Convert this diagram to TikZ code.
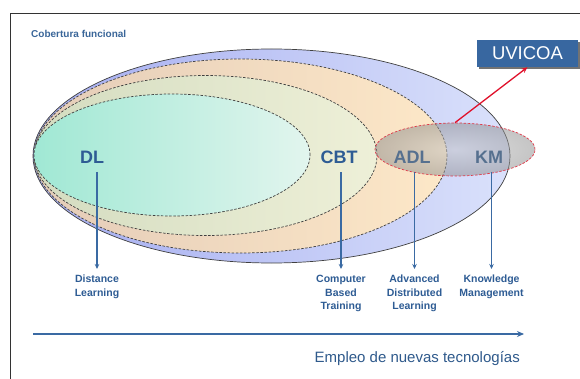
\documentclass[tikz,border=0pt]{standalone}
\usepackage{fontspec}
\setmainfont{Liberation Sans}
\usetikzlibrary{shapes.geometric,arrows.meta}
\definecolor{lbl}{HTML}{2E5C94}
\definecolor{lblgrey}{HTML}{56708F}
\definecolor{arr}{HTML}{3A6AA3}
\definecolor{ttl}{HTML}{3A6699}
\definecolor{boxblue}{HTML}{3867A0}
\definecolor{redline}{HTML}{E0102A}
\definecolor{kmred}{HTML}{E03848}
\definecolor{blueL}{HTML}{A4ACF0}
\definecolor{blueR}{HTML}{DAE1FB}
\definecolor{orL}{HTML}{E4CCB8}
\definecolor{orR}{HTML}{FDE8C8}
\definecolor{cbL}{HTML}{D4DCC0}
\definecolor{cbR}{HTML}{EEF0D8}
\definecolor{dlL}{HTML}{A0E8D4}
\definecolor{dlR}{HTML}{E2F5EE}
\definecolor{kmIn}{HTML}{C4C4C4}
\definecolor{kmOut}{HTML}{8C8C8C}
\definecolor{empl}{HTML}{2F5A8C}
\begin{document}
\begin{tikzpicture}[x=1pt,y=-1pt,
  ell/.style={ellipse, inner sep=0pt, draw=black!75, line width=0.7pt},
  dsh/.style={dash pattern=on 2.5pt off 1.6pt},
  big/.style={font=\fontsize{18}{20}\selectfont\bfseries, inner sep=0pt},
  small/.style={font=\fontsize{10.5}{13.5}\selectfont\bfseries, text=lbl, align=center, inner sep=0pt, anchor=north},
  varrow/.style={draw=arr, line width=1.2pt, -{Stealth[length=5pt,width=4.5pt]}},
]
\useasboundingbox (0,0) rectangle (580,379);
\fill[white] (0,0) rectangle (580,379);
% frame
\draw[black!80, line width=0.9pt] (10,379) -- (10,13) -- (580,13);
% title
\node[anchor=west, inner sep=0pt, text=ttl, font=\fontsize{10}{12}\selectfont\bfseries] (title) at (31,34) {Cobertura funcional};
% ellipses
\node[ell, minimum width=477pt, minimum height=214pt, left color=blueL, right color=blueR] (blue) at (271.5,156) {};
\node[ell, dsh, minimum width=413pt, minimum height=194pt, left color=orL, right color=orR] (orange) at (240.5,156) {};
\node[ell, dsh, minimum width=343pt, minimum height=160pt, left color=cbL, right color=cbR] (cbtell) at (205.5,155.5) {};
\node[ell, dsh, minimum width=276pt, minimum height=122pt, left color=dlL, right color=dlR] (dlell) at (172,155) {};
\node[ellipse, inner sep=0pt, minimum width=160pt, minimum height=53pt, inner color=kmIn, outer color=kmOut, fill opacity=0.5, draw=kmred, draw opacity=1, dsh, line width=0.7pt] (km) at (455,149.5) {};
% labels
\node[big, text=lbl] (dl) at (92,157) {DL};
\node[big, text=lbl] (cbt) at (339,157) {CBT};
\node[big, text=lblgrey] (adl) at (412,157) {ADL};
\node[big, text=lblgrey] (kmt) at (489,157) {KM};
% bottom labels
\node[small] (dlb) at (97,275) {Distance\\Learning};
\node[small] (cbtb) at (341,275) {Computer\\Based\\Training};
\node[small] (adlb) at (414.5,275) {Advanced\\Distributed\\Learning};
\node[small] (kmb) at (491.5,275) {Knowledge\\Management};
% vertical arrows
\draw[varrow, shorten <=8.5pt, shorten >=6pt] (dlb.north |- dl.south) -- (dlb.north);
\draw[varrow, shorten <=8.5pt, shorten >=6pt] (cbtb.north |- cbt.south) -- (cbtb.north);
\draw[varrow, shorten <=8.5pt, shorten >=6pt] (adlb.north |- adl.south) -- (adlb.north);
\draw[varrow, shorten <=8.5pt, shorten >=6pt] (kmb.north |- kmt.south) -- (kmb.north);
% UVICOA box
\fill[black!55] (479,42) rectangle (580,69);
\node[fill=boxblue, text=white, inner sep=0pt, minimum width=101pt, minimum height=27pt, font=\fontsize{18.5}{20}\selectfont] (uv) at (527.5,53.5) {UVICOA};
\draw[redline, line width=1.3pt, -{Stealth[length=6pt,width=5pt]}] (km.north) -- (uv.south);
% technology arrow
\coordinate (ha) at (33,334);
\coordinate (hb) at (524,334);
\draw[arr, line width=2.2pt, -{Stealth[length=7pt,width=6pt]}] (ha) -- (hb);
\node[anchor=base east, inner sep=0pt, text=empl, font=\fontsize{15}{18}\selectfont] (empleo) at (520,362.5) {Empleo de nuevas tecnologías};
\end{tikzpicture}
\end{document}
